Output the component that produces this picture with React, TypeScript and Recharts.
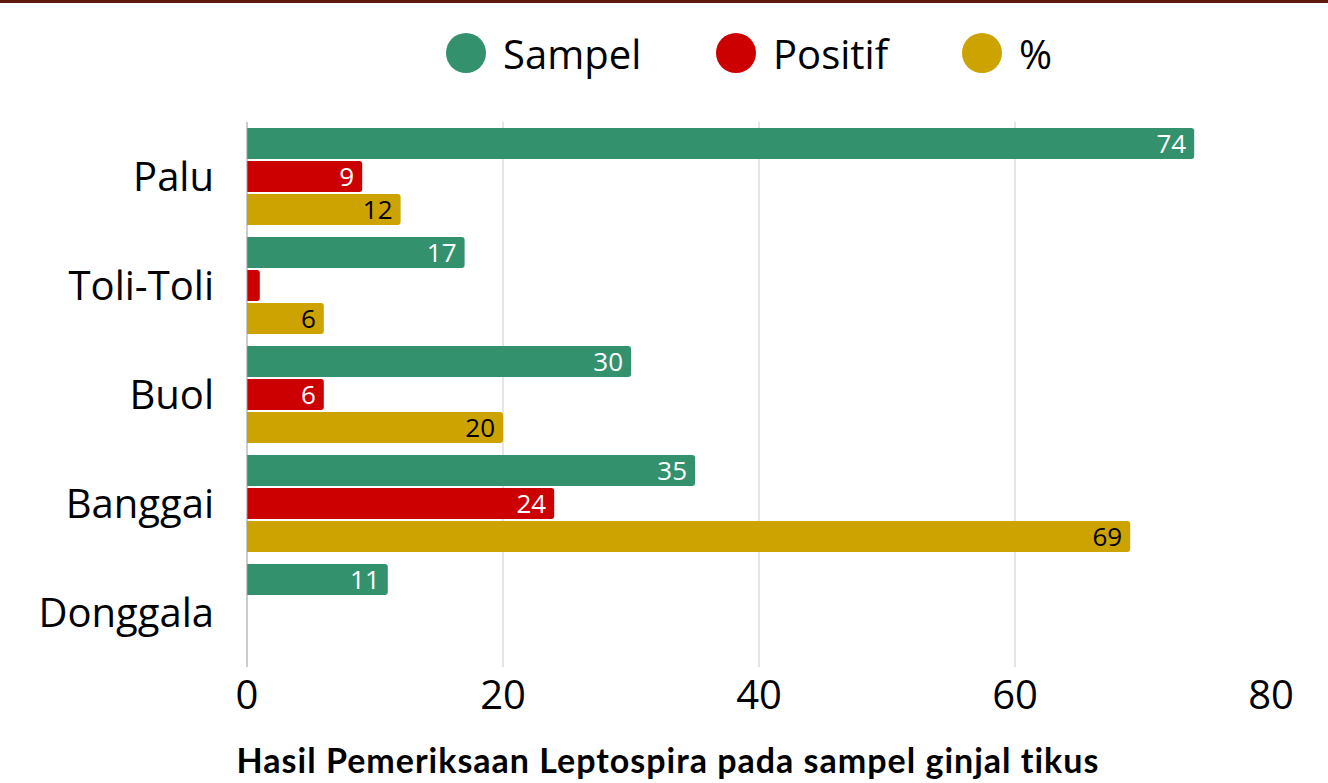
import React from "react";
import {
  BarChart,
  Bar,
  XAxis,
  YAxis,
  CartesianGrid,
  LabelList,
} from "recharts";

const regions = ["Palu", "Toli-Toli", "Buol", "Banggai", "Donggala"];
const sampel = [74, 17, 30, 35, 11];
const positif: (number | null)[] = [9, 1, 6, 24, null];
const persen: (number | null)[] = [12, 6, 20, 69, null];
const xTicks = [0, 20, 40, 60, 80];
const gridLines = [20, 40, 60];

const GREEN = "#33916d";
const RED = "#cc0000";
const GOLD = "#cca300";
const FONT = "'Open Sans', Lato, sans-serif";

const data = regions.map((name, i) => ({
  name,
  sampel: sampel[i],
  positif: positif[i],
  persen: persen[i],
}));

const legendItems = [
  { label: "Sampel", color: GREEN, left: 446 },
  { label: "Positif", color: RED, left: 716 },
  { label: "%", color: GOLD, left: 962 },
];

// small bars get no number, like the original
const showValue = (v: any) => (v != null && v >= 3 ? v : "");

// only the inner gridlines (no line at 0 or 80), placed by the x scale
const gridX = ({ xAxis, offset }: any) => {
  if (xAxis && typeof xAxis.scale === "function") {
    return gridLines.map((v) => xAxis.scale(v));
  }
  return gridLines.map((v) => offset.left + (v / 80) * offset.width);
};

const App: React.FC = () => {
  return (
    <div style={{ position: "relative", width: 1328, height: 783, fontFamily: FONT, overflow: "hidden", background: "#fff" }}>
      <style>{`body{margin:0}`}</style>
      <div style={{ position: "absolute", left: 0, top: 0, width: 1328, height: 3, background: "#5e1a10" }} />
      {legendItems.map((it) => (
        <div
          key={it.label}
          style={{
            position: "absolute",
            top: 30,
            left: it.left,
            display: "flex",
            alignItems: "center",
            fontSize: 40,
            color: "#000",
            height: 46,
          }}
        >
          <span
            style={{
              display: "inline-block",
              width: 40,
              height: 40,
              borderRadius: 20,
              background: it.color,
              marginRight: 17,
            }}
          />
          <span>{it.label}</span>
        </div>
      ))}
      <BarChart
        width={1328}
        height={783}
        data={data}
        layout="vertical"
        margin={{ top: 122, right: 57, bottom: 0, left: 0 }}
        barCategoryGap={12}
        barGap={2}
      >
        <CartesianGrid horizontal={false} stroke="#cccccc" verticalCoordinatesGenerator={gridX} />
        <XAxis
          type="number"
          domain={[0, 80]}
          ticks={xTicks}
          axisLine={false}
          tickLine={false}
          tickSize={0}
          tickMargin={14}
          height={116}
          tick={{ fontSize: 40, fill: "#000", fontFamily: FONT }}
        />
        <YAxis
          type="category"
          dataKey="name"
          width={247}
          axisLine={{ stroke: "#999999" }}
          tickLine={false}
          tickSize={0}
          tickMargin={33}
          tick={{ fontSize: 40, fill: "#000", fontFamily: FONT }}
        />
        <Bar dataKey="sampel" fill={GREEN} barSize={31} radius={[0, 3, 3, 0]} isAnimationActive={false}>
          <LabelList dataKey="sampel" position="insideRight" offset={8} fill="#fff" fontSize={26} fontFamily={FONT} formatter={showValue} />
        </Bar>
        <Bar dataKey="positif" fill={RED} barSize={31} radius={[0, 3, 3, 0]} isAnimationActive={false}>
          <LabelList dataKey="positif" position="insideRight" offset={8} fill="#fff" fontSize={26} fontFamily={FONT} formatter={showValue} />
        </Bar>
        <Bar dataKey="persen" fill={GOLD} barSize={31} radius={[0, 3, 3, 0]} isAnimationActive={false}>
          <LabelList dataKey="persen" position="insideRight" offset={8} fill="#000" fontSize={26} fontFamily={FONT} formatter={showValue} />
        </Bar>
      </BarChart>
      <div
        style={{
          position: "absolute",
          left: 0,
          width: 1328,
          top: 739,
          textAlign: "center",
          fontSize: 34,
          fontWeight: 700,
          letterSpacing: 1,
          fontFamily: "Lato, sans-serif",
          color: "#000",
          paddingLeft: 4,
          lineHeight: "42px",
        }}
      >
        Hasil Pemeriksaan Leptospira pada sampel ginjal tikus
      </div>
    </div>
  );
};

export default App;
